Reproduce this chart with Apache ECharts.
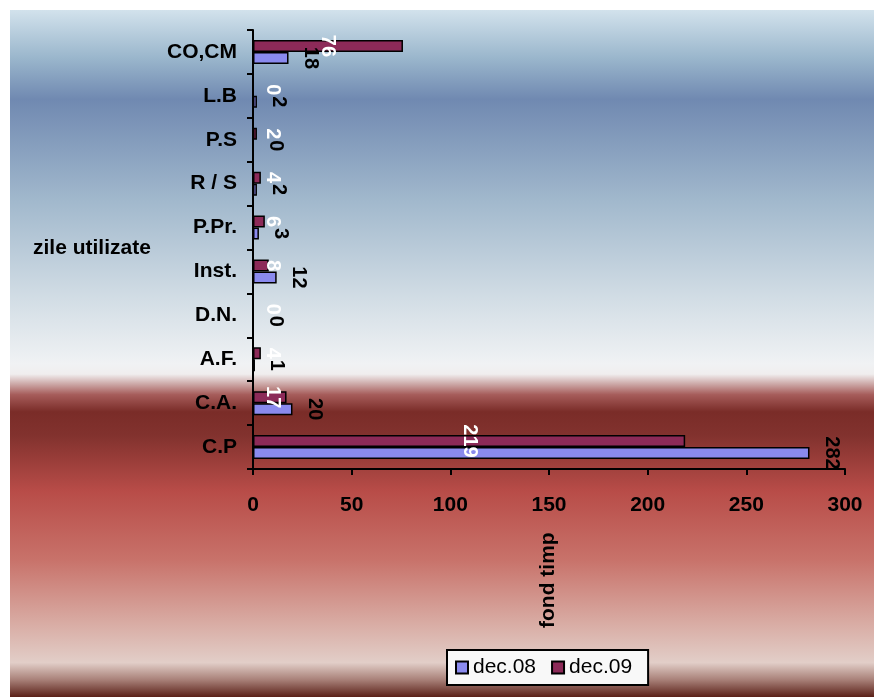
<!DOCTYPE html>
<html>
<head>
<meta charset="utf-8">
<script src="https://cdn.jsdelivr.net/npm/echarts@6/dist/echarts.min.js"></script>
<style>
html,body{margin:0;padding:0;background:#ffffff;}
#chart{width:874px;height:697px;}
</style>
</head>
<body>
<div id="chart"></div>
<script>
var categories = ["C.P", "C.A.", "A.F.", "D.N.", "Inst.", "P.Pr.", "R / S", "P.S", "L.B", "CO,CM"];
var dec08 = [282, 20, 1, 0, 12, 3, 2, 0, 2, 18];
var dec09 = [219, 17, 4, 0, 8, 6, 4, 2, 0, 76];
var xTicks = [0, 50, 100, 150, 200, 250, 300];
var seriesNames = ["dec.08", "dec.09"];
var yAxisTitle = "zile utilizate";
var xAxisTitle = "fond timp";

var FONT = "Liberation Sans, Arial, sans-serif";
var chart = echarts.init(document.getElementById('chart'), null, {renderer: 'canvas'});

var bg = new echarts.graphic.LinearGradient(0, 0, 0, 1, [
  {offset: 0.000, color: '#d2e2ec'},
  {offset: 0.070, color: '#9ab6cc'},
  {offset: 0.130, color: '#7089b1'},
  {offset: 0.280, color: '#a2b9cd'},
  {offset: 0.420, color: '#d2dde5'},
  {offset: 0.515, color: '#f0f2f4'},
  {offset: 0.530, color: '#f0eeee'},
  {offset: 0.560, color: '#a65c5a'},
  {offset: 0.585, color: '#7a2c28'},
  {offset: 0.620, color: '#82322e'},
  {offset: 0.700, color: '#b84c48'},
  {offset: 0.800, color: '#c8726a'},
  {offset: 0.890, color: '#d8aaa2'},
  {offset: 0.950, color: '#e2cec8'},
  {offset: 0.975, color: '#a88078'},
  {offset: 1.000, color: '#5a2018'}
]);

// inside labels of short bars are pushed right so they stay readable (as in the source)
var PX_PER_UNIT = 592 / 300;
var dec09Items = dec09.map(function (v) {
  var half = v * PX_PER_UNIT / 2;
  var off = Math.max(0, 20 - half);
  return {value: v, label: {offset: [0, -off]}};
});

var option = {
  animation: false,
  graphic: [
    {type: 'rect', z: -10, silent: true, shape: {x: 10, y: 10, width: 864, height: 687}, style: {fill: bg}},
    {type: 'text', left: 33, top: 238, style: {text: yAxisTitle, font: 'bold 21px ' + FONT, fill: '#000'}},
    {type: 'text', x: 538, y: 628, rotation: Math.PI / 2, style: {text: xAxisTitle, font: 'bold 21px ' + FONT, fill: '#000', textAlign: 'left', textVerticalAlign: 'top'}}
  ],
  legend: {
    data: seriesNames,
    left: 447, top: 650,
    orient: 'horizontal',
    itemWidth: 12, itemHeight: 12, itemGap: 15,
    padding: [7, 16, 7, 8],
    backgroundColor: '#f8f8f8',
    borderColor: '#000', borderWidth: 2, borderRadius: 0,
    icon: 'rect',
    textStyle: {fontFamily: FONT, fontSize: 21, color: '#000'}
  },
  grid: {left: 253, right: 29, top: 30, bottom: 228, containLabel: false},
  xAxis: {
    type: 'value', min: 0, max: 300, interval: 50,
    axisLine: {show: true, lineStyle: {color: '#000', width: 2}},
    axisTick: {show: true, length: 6, lineStyle: {color: '#000', width: 2}},
    splitLine: {show: false},
    axisLabel: {margin: 26, fontFamily: FONT, fontWeight: 'bold', fontSize: 21, color: '#000',
      formatter: function (v) { return xTicks.indexOf(v) >= 0 ? String(v) : ''; }}
  },
  yAxis: {
    type: 'category', data: categories,
    axisLine: {show: true, lineStyle: {color: '#000', width: 2}},
    axisTick: {show: true, length: 6, lineStyle: {color: '#000', width: 2}},
    axisLabel: {margin: 16, fontFamily: FONT, fontWeight: 'bold', fontSize: 21, color: '#000'}
  },
  series: [
    {
      name: seriesNames[1], type: 'bar', data: dec09Items,
      barWidth: 12, barGap: '0%',
      itemStyle: {color: '#8c2a58', borderColor: '#000', borderWidth: 1.5},
      label: {show: true, position: 'inside', rotate: -90,
        fontFamily: FONT, fontWeight: 'bold', fontSize: 20, color: '#fff'}
    },
    {
      name: seriesNames[0], type: 'bar', data: dec08,
      barWidth: 12, barGap: '0%',
      itemStyle: {color: '#8a8aee', borderColor: '#000', borderWidth: 1.5},
      label: {show: true, position: 'right', distance: 22, rotate: -90,
        align: 'center', verticalAlign: 'middle',
        fontFamily: FONT, fontWeight: 'bold', fontSize: 20, color: '#000'}
    }
  ]
};
chart.setOption(option);
</script>
</body>
</html>
